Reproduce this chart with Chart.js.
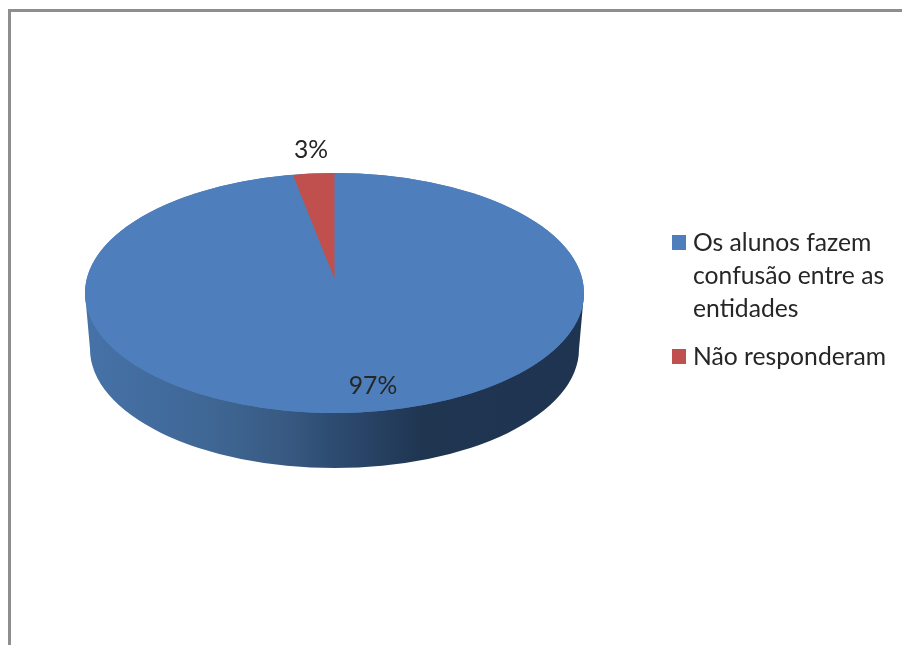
<!DOCTYPE html>
<html lang="pt">
<head>
<meta charset="utf-8">
<title>Pizza 3D</title>
<script src="https://cdn.jsdelivr.net/npm/chart.js@4/dist/chart.umd.min.js"></script>
<style>
  html, body { margin: 0; padding: 0; background: #fff; overflow: hidden; }
  canvas { display: block; }
</style>
</head>
<body>
<canvas id="grafico" width="902" height="645"></canvas>
<script>
// dados
const categorias = [['Os alunos fazem', 'confusão entre as', 'entidades'], ['Não responderam']];
const valores = [97, 3];
const cores = ['#4e7fbc', '#c0504d'];

const FONTE = '24.7px Lato, Carlito, "Noto Sans", sans-serif';
const COR_TEXTO = '#262626';

// achatamento da pizza (o grafico original e 3D em perspectiva)
const RY_TOPO = 120;
const PROFUNDIDADE = 56;
const AFINA_BASE = 5;
const VERTICE_FATIA = -14; // o vertice fica acima do centro da elipse

const pizza3d = {
  id: 'pizza3d',
  beforeDraw(chart) {
    const ctx = chart.ctx;
    // moldura
    ctx.save();
    ctx.strokeStyle = '#8e8e8e';
    ctx.lineWidth = 3;
    ctx.beginPath();
    ctx.moveTo(9.5, chart.height + 5);
    ctx.lineTo(9.5, 10.5);
    ctx.lineTo(chart.width + 5, 10.5);
    ctx.stroke();
    ctx.restore();
  },
  beforeDatasetDraw(chart, args) {
    const ctx = chart.ctx;
    const arcos = args.meta.data;
    const cx = arcos[0].x, cy = arcos[0].y, r = arcos[0].outerRadius;
    const esc = RY_TOPO / r;

    // lateral
    const grad = ctx.createLinearGradient(cx - r, 0, cx + r, 0);
    grad.addColorStop(0, '#4672a8');
    grad.addColorStop(0.25, '#3f6795');
    grad.addColorStop(0.4, '#385a82');
    grad.addColorStop(0.5, '#2d4b71');
    grad.addColorStop(0.68, '#1f3550');
    grad.addColorStop(1, '#1f3450');
    ctx.save();
    ctx.fillStyle = grad;
    ctx.beginPath();
    ctx.moveTo(cx - r, cy);
    ctx.lineTo(cx - r + AFINA_BASE, cy + PROFUNDIDADE);
    ctx.ellipse(cx, cy + PROFUNDIDADE, r - AFINA_BASE, RY_TOPO - 1, 0, Math.PI, 0, true);
    ctx.lineTo(cx + r, cy);
    ctx.closePath();
    ctx.fill();

    // face de cima
    ctx.fillStyle = cores[0];
    ctx.beginPath();
    ctx.ellipse(cx, cy, r, RY_TOPO, 0, 0, Math.PI * 2);
    ctx.fill();
    ctx.restore();

    // fatia azul
    ctx.save();
    ctx.translate(cx, cy);
    ctx.scale(1, esc);
    ctx.translate(-cx, -cy);
    arcos[0].draw(ctx);
    ctx.restore();

    // fatia vermelha, com o vertice deslocado pela perspectiva
    const vy = cy + VERTICE_FATIA;
    ctx.save();
    ctx.translate(cx, vy);
    ctx.scale(0.89, (RY_TOPO + VERTICE_FATIA) / r);
    ctx.translate(-cx, -cy);
    arcos[1].draw(ctx);
    ctx.restore();
    return false;
  },
  afterDraw(chart) {
    const ctx = chart.ctx;
    ctx.save();
    ctx.font = FONTE;
    ctx.fillStyle = COR_TEXTO;
    ctx.textBaseline = 'alphabetic';

    // rotulos de percentagem
    ctx.textAlign = 'center';
    ctx.fillText(valores[0] + '%', 373, 394);
    ctx.fillText(valores[1] + '%', 311, 158);

    // legenda
    ctx.textAlign = 'left';
    const linhasY = [[251, 284, 317], [365]];
    categorias.forEach((linhas, i) => {
      ctx.fillStyle = cores[i];
      ctx.fillRect(672, linhasY[i][0] - 16, 14, 15);
      ctx.fillStyle = COR_TEXTO;
      linhas.forEach((t, j) => ctx.fillText(t, 693, linhasY[i][j]));
    });
    ctx.restore();
  }
};

new Chart(document.getElementById('grafico'), {
  type: 'pie',
  data: {
    labels: categorias.map(l => l.join(' ')),
    datasets: [{
      data: valores,
      backgroundColor: cores,
      borderWidth: 0
    }]
  },
  options: {
    responsive: false,
    animation: false,
    layout: { padding: { left: 85, right: 318, top: 43.5, bottom: 102.5 } },
    plugins: {
      legend: { display: false },
      tooltip: { enabled: false }
    }
  },
  plugins: [pizza3d]
});
</script>
</body>
</html>
